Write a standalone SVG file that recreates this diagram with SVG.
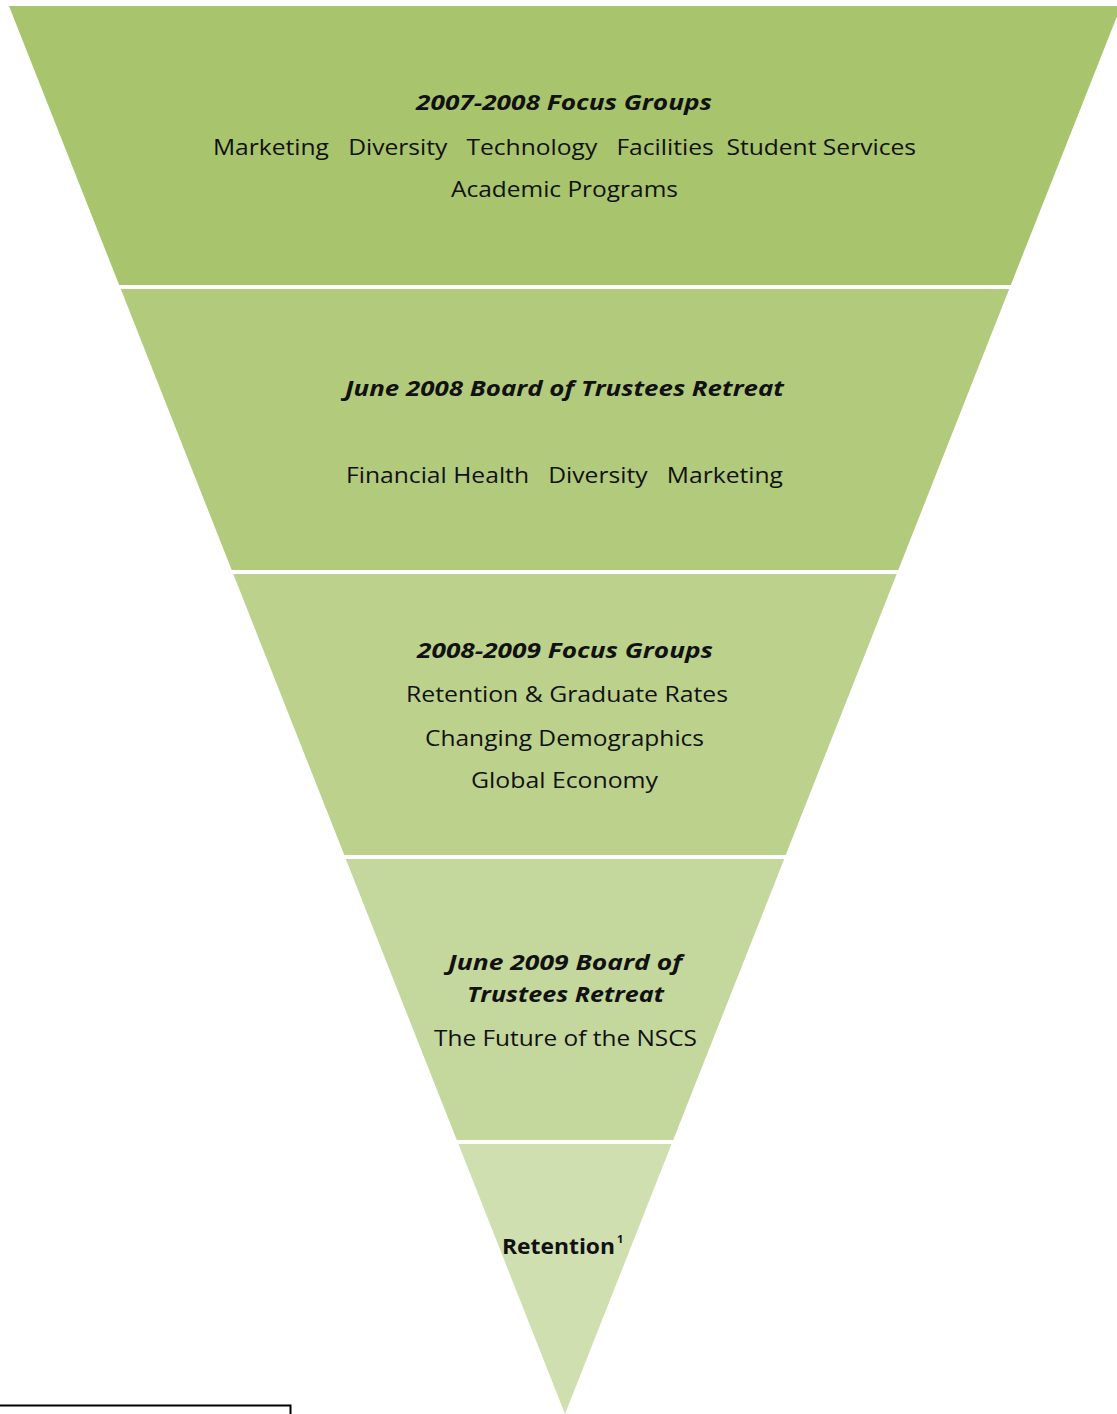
<svg xmlns="http://www.w3.org/2000/svg" width="1117" height="1414" viewBox="0 0 1117 1414">
<style>
.t{font-family:"Open Sans","Liberation Sans",sans-serif;font-size:22px;fill:#111;text-anchor:start}
.h{font-weight:bold;font-style:italic}
.b{font-weight:bold}
</style>
<rect width="1117" height="1414" fill="#fff"/>
<g id="band1">
<polygon points="9,6 1121,6 1010.8,285 119.2,285" fill="#a8c46c"/>
<text class="t h" x="416" y="110" textLength="296" lengthAdjust="spacingAndGlyphs">2007-2008 Focus Groups</text>
<text class="t" x="213" y="155" textLength="703" lengthAdjust="spacingAndGlyphs" xml:space="preserve">Marketing   Diversity   Technology   Facilities  Student Services</text>
<text class="t" x="451" y="197" textLength="227" lengthAdjust="spacingAndGlyphs">Academic Programs</text>
</g>
<g id="band2">
<polygon points="120.8,289 1009.2,289 898.3,570 231.7,570" fill="#b2ca7c"/>
<text class="t h" x="345" y="396" textLength="439" lengthAdjust="spacingAndGlyphs">June 2008 Board of Trustees Retreat</text>
<text class="t" x="346" y="483" textLength="437" lengthAdjust="spacingAndGlyphs" xml:space="preserve">Financial Health   Diversity   Marketing</text>
</g>
<g id="band3">
<polygon points="233.3,574 896.7,574 785.7,855 344.3,855" fill="#bcd18c"/>
<text class="t h" x="417" y="658" textLength="296" lengthAdjust="spacingAndGlyphs">2008-2009 Focus Groups</text>
<text class="t" x="406" y="702" textLength="322" lengthAdjust="spacingAndGlyphs">Retention &amp; Graduate Rates</text>
<text class="t" x="425" y="746" textLength="279" lengthAdjust="spacingAndGlyphs">Changing Demographics</text>
<text class="t" x="471" y="788" textLength="187" lengthAdjust="spacingAndGlyphs">Global Economy</text>
</g>
<g id="band4">
<polygon points="345.8,859 784.2,859 673.2,1140 456.8,1140" fill="#c4d79c"/>
<text class="t h" x="448" y="970" textLength="234" lengthAdjust="spacingAndGlyphs">June 2009 Board of</text>
<text class="t h" x="467" y="1002" textLength="197" lengthAdjust="spacingAndGlyphs">Trustees Retreat</text>
<text class="t" x="434" y="1046" textLength="263" lengthAdjust="spacingAndGlyphs">The Future of the NSCS</text>
</g>
<g id="band5">
<polygon points="458.4,1144 671.6,1144 565,1414" fill="#d0dfb0"/>
<text class="t b" x="502" y="1254" textLength="113" lengthAdjust="spacingAndGlyphs">Retention</text>
<text class="t b" x="617" y="1243" style="font-size:11px">1</text>
</g>
<g id="connectors"></g>
<path d="M0,1405.5 H290.5 V1414" fill="none" stroke="#000" stroke-width="2"/>
</svg>
